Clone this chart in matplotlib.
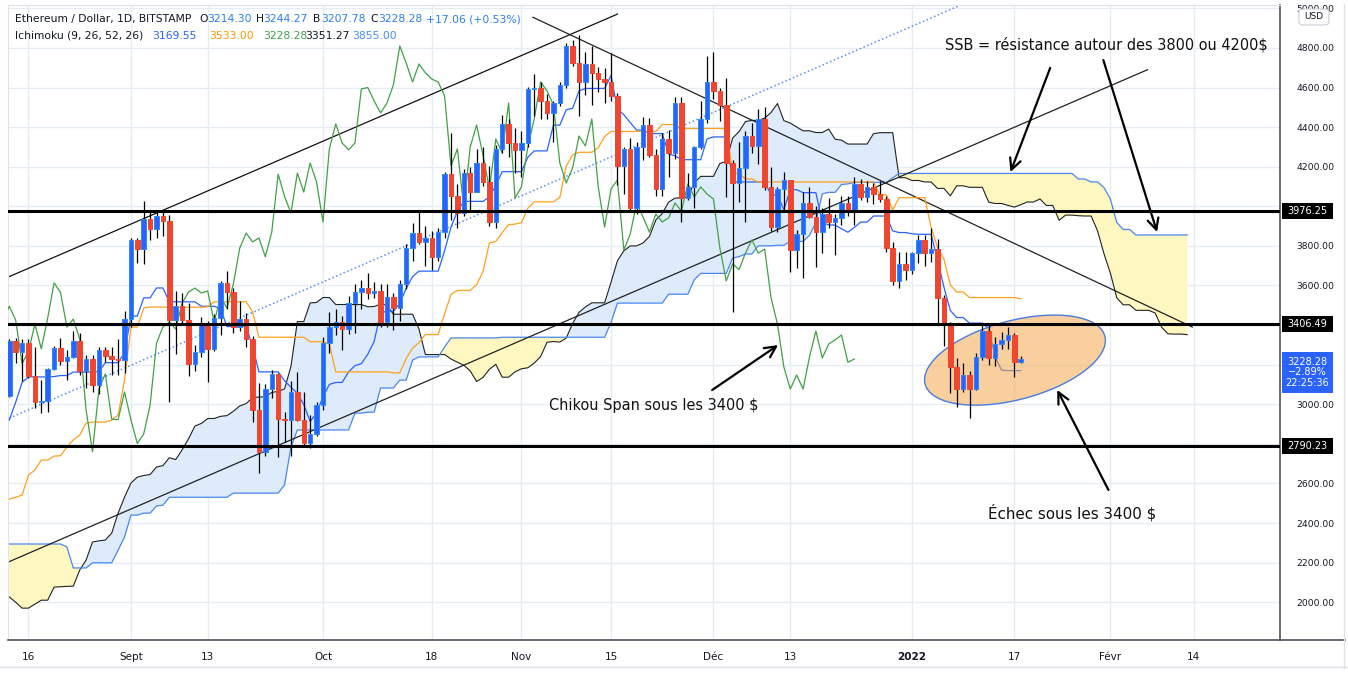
import numpy as np
import pandas as pd
import matplotlib
matplotlib.use("Agg")
import matplotlib.pyplot as plt
from matplotlib.patches import Polygon, FancyBboxPatch, Rectangle
from matplotlib.lines import Line2D
from matplotlib.transforms import blended_transform_factory

plt.rcParams['font.family'] = ['DejaVu Sans']

# ---- data ----
start = pd.Timestamp("2021-08-13")
dates = pd.date_range(start, "2022-01-18", freq="D")

opens = [3042, 3320, 3265, 3310, 3145, 3010, 3015, 3180, 3285, 3220, 3238, 3320, 3170, 3230, 3095, 3275, 3245, 3228, 3226,
         3430, 3830, 3785, 3936, 3885, 3950, 3925, 3425, 3495, 3425, 3205, 3265, 3405, 3280, 3436, 3613, 3565, 3390, 3430, 3330,
         2970, 2760, 3077, 3153, 2925, 2922, 3062, 2922, 2802, 2850,
         2996, 3309, 3390, 3415, 3380, 3511, 3567, 3587, 3562, 3572, 3415, 3542, 3486, 3607, 3789, 3865, 3820, 3840, 3745, 3870,
         4163, 4050, 3966, 4168, 4072, 4219, 4123, 3921, 4290, 4416, 4320,
         4285, 4320, 4593, 4600, 4532, 4472, 4522, 4613, 4810, 4724, 4628, 4719, 4674, 4643, 4628, 4557, 4204, 4290, 3992, 4300,
         4411, 4259, 4087, 4340, 4269, 4522, 4042, 4098, 4300, 4441,
         4628, 4583, 4512, 4219, 4118, 4194, 4355, 4305, 4441, 4098, 3895, 4088, 4133, 3779, 3860, 4017, 3946, 3870, 3961, 3921,
         3941, 4017, 3976, 4113, 4047, 4098, 4062, 4037, 3789, 3623, 3709,
         3680, 3764, 3830, 3764, 3784, 3537, 3405, 3188, 3077, 3148, 3077, 3238, 3370, 3234, 3304, 3325, 3350, 3214.30]
highs = [3330, 3335, 3330, 3330, 3290, 3120, 3185, 3295, 3335, 3275, 3370, 3360, 3250, 3250, 3290, 3290, 3290, 3330, 3470,
         3840, 3840, 4025, 3970, 3980, 3980, 3955, 3570, 3560, 3510, 3300, 3440, 3420, 3455, 3625, 3675, 3585, 3520, 3460, 3345,
         3105, 3100, 3175, 3160, 2960, 3115, 3165, 3060, 2945, 3010,
         3340, 3465, 3480, 3445, 3547, 3610, 3630, 3665, 3620, 3610, 3610, 3560, 3630, 3810, 3915, 3970, 3900, 3875, 3890, 4175,
         4370, 4115, 4190, 4200, 4290, 4300, 4205, 4310, 4460, 4440, 4395,
         4380, 4605, 4670, 4630, 4565, 4530, 4630, 4825, 4840, 4866, 4780, 4810, 4705, 4700, 4775, 4570, 4300, 4345, 4325, 4450,
         4445, 4290, 4370, 4385, 4550, 4550, 4170, 4305, 4530, 4760,
         4780, 4600, 4650, 4235, 4325, 4380, 4420, 4490, 4500, 4200, 4100, 4173, 4135, 3880, 4072, 4100, 4000, 3990, 4040, 3960,
         4050, 4050, 4148, 4136, 4130, 4120, 4130, 4050, 3820, 3769, 3770,
         3770, 3855, 3855, 3890, 3835, 3550, 3415, 3235, 3208, 3170, 3260, 3410, 3400, 3340, 3365, 3390, 3360, 3244.27]
lows = [3035, 3210, 3115, 3135, 2980, 2955, 2960, 3175, 3200, 3120, 3235, 3150, 3080, 3060, 3050, 3215, 3150, 3150, 3160,
        3390, 3715, 3710, 3830, 3840, 3850, 3010, 3255, 3410, 3145, 3170, 3240, 3110, 3270, 3350, 3480, 3360, 3370, 3290, 2910,
        2652, 2740, 3030, 2735, 2810, 2740, 2915, 2795, 2780, 2840,
        2970, 3260, 3350, 3275, 3355, 3360, 3480, 3530, 3535, 3390, 3390, 3375, 3420, 3580, 3725, 3810, 3700, 3680, 3725, 3840,
        3930, 3890, 3950, 3970, 4070, 4105, 3900, 3890, 4270, 4250, 4168,
        4150, 4300, 4455, 4440, 4440, 4325, 4505, 4600, 4710, 4455, 4560, 4512, 4580, 4522, 4530, 4110, 4060, 3980, 3960, 4235,
        4250, 4050, 4050, 4150, 4240, 3921, 4030, 3992, 4290, 4420,
        4540, 4431, 4045, 3466, 4020, 3921, 4270, 4215, 4080, 3875, 3870, 3981, 3668, 3690, 3638, 3940, 3693, 3764, 3890, 3754,
        3905, 3950, 3906, 4030, 4020, 4010, 4020, 3770, 3603, 3587, 3630,
        3660, 3714, 3700, 3719, 3410, 3294, 3057, 2986, 3060, 2930, 3070, 3225, 3200, 3193, 3280, 3280, 3138, 3207.78]
closes = [3320, 3265, 3310, 3145, 3010, 3015, 3180, 3285, 3220, 3238, 3320, 3170, 3230, 3095, 3275, 3245, 3228, 3226, 3430,
          3830, 3785, 3936, 3885, 3950, 3925, 3425, 3495, 3425, 3205, 3265, 3405, 3280, 3436, 3613, 3565, 3390, 3430, 3330, 2970,
          2760, 3077, 3153, 2925, 2922, 3062, 2922, 2802, 2850, 2996,
          3309, 3390, 3415, 3380, 3511, 3567, 3587, 3562, 3572, 3415, 3542, 3486, 3607, 3789, 3865, 3820, 3840, 3745, 3870, 4163,
          4050, 3966, 4168, 4072, 4219, 4123, 3921, 4290, 4416, 4320, 4285,
          4320, 4593, 4600, 4532, 4472, 4522, 4613, 4810, 4724, 4628, 4719, 4674, 4643, 4628, 4557, 4204, 4290, 3992, 4300, 4411,
          4259, 4087, 4340, 4269, 4522, 4042, 4098, 4300, 4441, 4628,
          4583, 4512, 4219, 4118, 4194, 4355, 4305, 4441, 4098, 3895, 4088, 4133, 3779, 3860, 4017, 3946, 3870, 3961, 3921, 3941,
          4017, 3976, 4113, 4047, 4098, 4062, 4037, 3789, 3623, 3709, 3680,
          3764, 3830, 3764, 3784, 3537, 3405, 3188, 3077, 3148, 3077, 3238, 3370, 3234, 3304, 3325, 3350, 3212, 3228.28]

# ichimoku values read where the visible candles do not cover the look-back window
tenkan_early = [2920, 3010, 3110, 3138, 3138, 3138, 3138, 3140]
kijun_early = [2521, 2530, 2541, 2642, 2668, 2718, 2718, 2738, 2740, 2784, 2820, 2844, 2905, 2910, 2910, 2910, 2920,
               2945, 3122, 3390, 3390, 3486, 3491, 3491, 3491]
span_a_early = [2026, 2000, 1970, 1970, 1990, 2010, 2010, 2076, 2078, 2080, 2081, 2162, 2213, 2304, 2310, 2314, 2349,
                2450, 2530, 2602, 2632, 2640, 2645, 2683, 2690, 2730]
span_b_early = [2294, 2294, 2294, 2294, 2294, 2294, 2294, 2294, 2294, 2279, 2173, 2173, 2173, 2199, 2199, 2199, 2199,
                2263, 2329, 2440, 2440, 2450, 2450, 2486, 2490, 2530, 2530, 2530, 2530, 2530, 2530, 2530, 2530, 2530,
                2530, 2551, 2551, 2551, 2551, 2551, 2551, 2551, 2551, 2592, 2784, 2870, 2870, 2870, 2870, 2870, 2870,
                2870, 2870, 2870, 2955, 2955, 2960, 2960, 3082, 3082, 3082, 3122, 3122, 3223, 3239, 3239, 3239, 3239,
                3289, 3335, 3335, 3335, 3335, 3335, 3335, 3335, 3335]

levels = [3976.25, 3406.49, 2790.23]
level_labels = ["3976.25", "3406.49", "2790.23"]

tick_dates = ["2021-08-16", "2021-09-01", "2021-09-13", "2021-10-01", "2021-10-18", "2021-11-01", "2021-11-15",
              "2021-12-01", "2021-12-13", "2022-01-01", "2022-01-17", "2022-02-01", "2022-02-14"]
tick_labels = ["16", "Sept", "13", "Oct", "18", "Nov", "15", "Déc", "13", "2022", "17", "Févr", "14"]

# price ticks whose labels sit under the price tags
covered_ticks = [4000, 3400, 3200, 2800]

# trend lines: (day offset, price) pairs
channel_top = [(0, 3645), (95, 4971)]
channel_bottom = [(0, 2205), (177.8, 4690)]
channel_mid = [(0, 2930), (150, 5036)]
down_line = [(81.8, 4955), (184.8, 3390)]

UP = '#2962FF'
DOWN = '#F0452F'

# ---- figure ----
W, H = 1348, 673
fig = plt.figure(figsize=(W / 100, H / 100), dpi=100)
ax = fig.add_axes([8 / W, 33 / H, 1272 / W, 635 / H])
ax.set_xlim(-0.2, 198.5)
ax.set_ylim(1809, 5017)

x = np.arange(len(dates))
o = np.array(opens, float)
h = np.array(highs, float)
l = np.array(lows, float)
c = np.array(closes, float)

# ichimoku
hi = pd.Series(h)
lo = pd.Series(l)
tenkan = ((hi.rolling(9).max() + lo.rolling(9).min()) / 2).to_numpy()
tenkan[:8] = tenkan_early
kijun = ((hi.rolling(26).max() + lo.rolling(26).min()) / 2).to_numpy()
kijun[:25] = kijun_early
spanb_src = ((hi.rolling(52).max() + lo.rolling(52).min()) / 2).to_numpy()
span_a = np.concatenate([span_a_early, (tenkan + kijun) / 2])
span_b = np.concatenate([span_b_early, spanb_src[51:]])
cx_ = np.arange(len(span_a))

ax.fill_between(cx_, span_a, span_b, where=span_a >= span_b, interpolate=True, color='#DDEBFB', lw=0, zorder=1)
ax.fill_between(cx_, span_a, span_b, where=span_a < span_b, interpolate=True, color='#FFF7C0', lw=0, zorder=1)
ax.plot(cx_, span_a, color='#222222', lw=0.8, zorder=2)
ax.plot(cx_, span_b, color='#4A86F0', lw=0.9, zorder=2)

# trend lines
for seg, col, ls in [(channel_top, '#111111', '-'), (channel_bottom, '#222222', '-'),
                     (channel_mid, '#5B8DEF', ':'), (down_line, '#222222', '-')]:
    (x0, y0), (x1, y1) = seg
    ax.plot([x0, x1], [y0, y1], color=col, lw=0.9 if ls == '-' else 1.1, ls=ls, zorder=2.5)

ax.plot(x, tenkan, color='#2962FF', lw=0.9, zorder=3)
ax.plot(x, kijun, color='#FF9F1C', lw=0.9, zorder=3)
ax.plot(x - 26, c, color='#43A047', lw=0.9, zorder=3)

# ellipse (drawn in screen space)
fig.canvas.draw()
ecx, ecy = ax.transData.transform((157.1, 3223))
t = np.linspace(0, 2 * np.pi, 240)
ea, eb, th = 93, 39.4, np.radians(15)
px = ecx + ea * np.cos(t) * np.cos(th) - eb * np.sin(t) * np.sin(th)
py = ecy + ea * np.cos(t) * np.sin(th) + eb * np.sin(t) * np.cos(th)
pts = ax.transData.inverted().transform(np.column_stack([px, py]))
ax.add_patch(Polygon(pts, closed=True, facecolor='#F5A94E', alpha=0.55, edgecolor='none', zorder=3.5))
ax.add_patch(Polygon(pts, closed=True, facecolor='none', edgecolor='#4A7BE0', lw=1, zorder=3.6))

# candles
ax.vlines(x, l, h, color='black', lw=0.9, zorder=4)
up = c >= o
body_lo = np.minimum(o, c)
body_h = np.maximum(np.abs(c - o), 5)
ax.bar(x, body_h, bottom=body_lo, width=0.7, color=np.where(up, UP, DOWN),
       edgecolor=np.where(up, '#2A8CF5', DOWN), linewidth=0.7, zorder=5)

# horizontal levels
for lv in levels:
    ax.axhline(lv, color='black', lw=2.2, zorder=6)

# annotations
arrow_kw = dict(arrowstyle='->', lw=1.6, color='black', mutation_scale=20, shrinkA=0, shrinkB=0)
ax.annotate('', xy=(156.4, 4173), xytext=(162.6, 4699), arrowprops=arrow_kw, zorder=7)
ax.annotate('', xy=(179.3, 3870), xytext=(170.9, 4739), arrowprops=arrow_kw, zorder=7)
ax.annotate('', xy=(120.1, 3299), xytext=(109.8, 3072), arrowprops=arrow_kw, zorder=7)
ax.annotate('', xy=(163.7, 3072), xytext=(171.7, 2567), arrowprops=arrow_kw, zorder=7)

notes = [
    (146.2, 4815, "SSB = résistance autour des 3800 ou 4200$", 323),
    (84.3, 2996, "Chikou Span sous les 3400 $", 209),
    (152.9, 2450, "Échec sous les 3400 $", 169),
]
note_texts = []
for nx, ny, s, wpx in notes:
    tt = ax.text(nx, ny, s, fontsize=11, color='#111111', ha='left', va='center', zorder=8)
    note_texts.append((tt, wpx))

# grid / axes
tick_pos = [(pd.Timestamp(d) - start).days for d in tick_dates]
ax.set_xticks(tick_pos)
ax.set_xticklabels(tick_labels)
for lab in ax.get_xticklabels():
    if lab.get_text() == "2022":
        lab.set_fontweight('bold')
yt = np.arange(2000, 5001, 200)
ax.set_yticks(yt)
ax.set_yticklabels(["" if v in covered_ticks else f"{v:.2f}" for v in yt])
ax.yaxis.tick_right()
ax.tick_params(axis='both', length=0, colors='#131722')
ax.tick_params(axis='x', pad=9, labelsize=7.5)
ax.tick_params(axis='y', pad=12, labelsize=6.6)
ax.grid(True, color='#E6ECF3', lw=1, zorder=0)
ax.set_axisbelow(True)
for side in ['left', 'top']:
    ax.spines[side].set_color('#E0E3EB')
ax.spines['right'].set_color('#50535E')
ax.spines['bottom'].set_color('#50535E')
ax.spines['right'].set_linewidth(1.2)
ax.spines['bottom'].set_linewidth(1.2)

# price labels on the right axis
bt = blended_transform_factory(ax.transAxes, ax.transData)
px_per_usd = 635 / (5017 - 1809)
bw = 51 / 1272
for lv, s in zip(levels, level_labels):
    hh = 16 / px_per_usd
    ax.add_patch(Rectangle((1.0016, lv - hh / 2), bw, hh, transform=bt, facecolor='black',
                           edgecolor='none', clip_on=False, zorder=9))
    ax.text(1.0016 + bw / 2, lv, s, transform=bt, color='white', fontsize=7, ha='center', va='center',
            clip_on=False, zorder=10)
cur_mid = 5017 - (372.5 - 5) / px_per_usd
hh = 41 / px_per_usd
ax.add_patch(Rectangle((1.0016, cur_mid - hh / 2), bw, hh, transform=bt, facecolor='#2962FF',
                       edgecolor='none', clip_on=False, zorder=9))
ax.text(1.0016 + bw / 2, cur_mid, "3228.28\n\u22122.89%\n22:25:36", transform=bt, color='white', fontsize=7,
        ha='center', va='center', linespacing=1.05, clip_on=False, zorder=10)

# USD box
fig.patches.append(FancyBboxPatch((1299 / W, 1 - 25 / H), 30 / W, 16 / H, boxstyle='round,pad=0,rounding_size=0.004',
                                  transform=fig.transFigure, facecolor='white', edgecolor='#C9CCD4', lw=0.8))
fig.text(1314 / W, 1 - 16.5 / H, "USD", fontsize=6.5, color='#131722', ha='center', va='center')

# frame lines of the pane
fig.add_artist(Line2D([1280 / W, 1 - 3 / W], [33 / H, 33 / H], transform=fig.transFigure, color='#50535E', lw=1.2))
fig.add_artist(Line2D([1 - 4 / W, 1 - 4 / W], [5 / H, 1 - 4 / H], transform=fig.transFigure, color='#E0E3EB', lw=1))
fig.add_artist(Line2D([0, 1], [6 / H, 6 / H], transform=fig.transFigure, color='#E0E3EB', lw=1))

# legend text
BLUE = '#2A7FF0'
line1 = [("Ethereum / Dollar, 1D, BITSTAMP", 15, '#131722'), ("O", 199, '#131722'), ("3214.30", 207, BLUE),
         ("H", 256, '#131722'), ("3244.27", 263, BLUE), ("B", 313, '#131722'), ("3207.78", 321, BLUE),
         ("C", 370, '#131722'), ("3228.28", 378, BLUE), ("+17.06 (+0.53%)", 426, BLUE)]
line2 = [("Ichimoku (9, 26, 52, 26)", 15, '#131722'), ("3169.55", 152, '#2962FF'), ("3533.00", 209, '#FF9800'),
         ("3228.28", 263, '#43A047'), ("3351.27", 305, '#131722'), ("3855.00", 352, '#448AFF')]
leg_texts = []
for row, yy in [(line1, 19), (line2, 36)]:
    for s, xx, col in row:
        leg_texts.append(fig.text(xx / W, 1 - yy / H, s, fontsize=8, color=col, ha='left', va='center'))

# fit text widths to the reference
fig.canvas.draw()
r = fig.canvas.get_renderer()
for tt, wpx in note_texts:
    wcur = tt.get_window_extent(r).width
    tt.set_fontsize(11 * wpx / wcur)
wcur = leg_texts[0].get_window_extent(r).width
fs = 8 * 177 / wcur
for tt in leg_texts:
    tt.set_fontsize(fs)

fig.savefig("out.png", dpi=100, facecolor='white')
